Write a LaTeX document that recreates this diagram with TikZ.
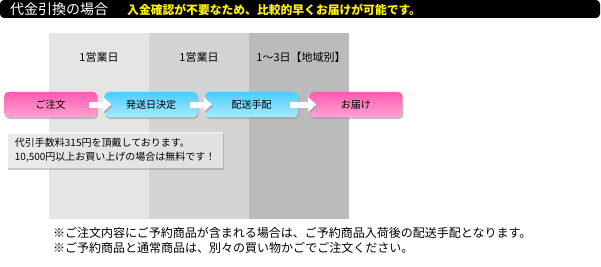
\documentclass[tikz,border=0pt]{standalone}
\usepackage{fontspec}
\setmainfont{Noto Sans CJK JP}
\usetikzlibrary{positioning, arrows.meta, shadows}

\definecolor{dayone}{HTML}{E5E5E5}
\definecolor{daytwo}{HTML}{D4D4D4}
\definecolor{daythree}{HTML}{BBBBBB}
\definecolor{pinktop}{HTML}{FF5CAF}
\definecolor{pinkmid}{HTML}{FF4AA6}
\definecolor{pinkbot}{HTML}{FFA3D3}
\definecolor{bluetop}{HTML}{4CCEFF}
\definecolor{bluemid}{HTML}{55D3FF}
\definecolor{bluebot}{HTML}{A9E8FF}

\begin{document}
\begin{tikzpicture}[
  x=1pt, y=-1pt,
  flowbox/.style={
    rounded corners=4pt, minimum width=93pt, minimum height=25pt,
    inner sep=0pt, font=\fontsize{10pt}{12pt}\selectfont,
    drop shadow={shadow xshift=1pt, shadow yshift=-2pt, fill=black!40, opacity=0.6}
  },
  pinkbox/.style={
    flowbox, top color=pinktop, middle color=pinkmid, bottom color=pinkbot
  },
  bluebox/.style={
    flowbox, top color=bluetop, middle color=bluemid, bottom color=bluebot
  },
  flowarrow/.style={
    line width=6pt, white, -{Triangle[length=8pt, width=14pt]},
    shorten <=-8pt, shorten >=-7pt,
    preaction={draw=black!35, transform canvas={xshift=1pt, yshift=-1.5pt}}
  },
  daylabel/.style={
    font=\fontsize{11pt}{13pt}\selectfont
  },
  notetext/.style={
    font=\fontsize{12pt}{15pt}\selectfont, align=left, inner sep=0pt
  }
]
\useasboundingbox (0,0) rectangle (601,267);

% geometry
\def\coltop{33}      % top of the day columns
\def\colbot{219}     % bottom of the day columns
\def\flowy{104.5}    % centre line of the flow

% header bar
\fill[black, rounded corners=4pt] (0,0) rectangle (600,18);
\node[anchor=west, white, inner sep=0pt, font=\fontsize{14pt}{16pt}\selectfont]
  (title) at (10,9) {代金引換の場合};
\node[anchor=west, yellow, inner sep=0pt, font=\fontsize{11.8pt}{14pt}\selectfont\bfseries]
  (lead) at (127,9.5) {入金確認が不要なため、比較的早くお届けが可能です。};

% day columns
\fill[dayone]   (49,\coltop)  rectangle (149,\colbot);
\fill[daytwo]   (149,\coltop) rectangle (249,\colbot);
\fill[daythree] (249,\coltop) rectangle (349,\colbot);

\node[daylabel] (day1) at (99,57)  {1営業日};
\node[daylabel] (day2) at (199,57) {1営業日};
\node[daylabel] (day3) at (301,57) {1〜3日【地域別】};

% flow boxes
\node[pinkbox, anchor=west] (order) at (4,\flowy) {ご注文};
\node[bluebox, right=7pt of order]    (decide)  {発送日決定};
\node[bluebox, right=7pt of decide]   (arrange) {配送手配};
\node[pinkbox, right=11pt of arrange] (deliver) {お届け};

% arrows between boxes
\draw[flowarrow] (order.east)   -- (decide.west);
\draw[flowarrow] (decide.east)  -- (arrange.west);
\draw[flowarrow] (arrange.east) -- (deliver.west);

% fee note
\node[anchor=north west, minimum width=216pt, minimum height=36pt,
      fill=white, fill opacity=0.6, text opacity=1,
      drop shadow={shadow xshift=1pt, shadow yshift=-1.5pt, fill=black!40, opacity=0.5},
      inner xsep=7pt, inner ysep=0pt, align=left,
      font=\fontsize{10pt}{14pt}\selectfont]
  (fee) at (7,132) {代引手数料315円を頂戴しております。\\10,500円以上お買い上げの場合は無料です！};

% notes below
\node[notetext, anchor=north west] (notes) at (53,227)
  {※ご注文内容にご予約商品が含まれる場合は、ご予約商品入荷後の配送手配となります。\\
   ※ご予約商品と通常商品は、別々の買い物かごでご注文ください。};

\end{tikzpicture}
\end{document}
